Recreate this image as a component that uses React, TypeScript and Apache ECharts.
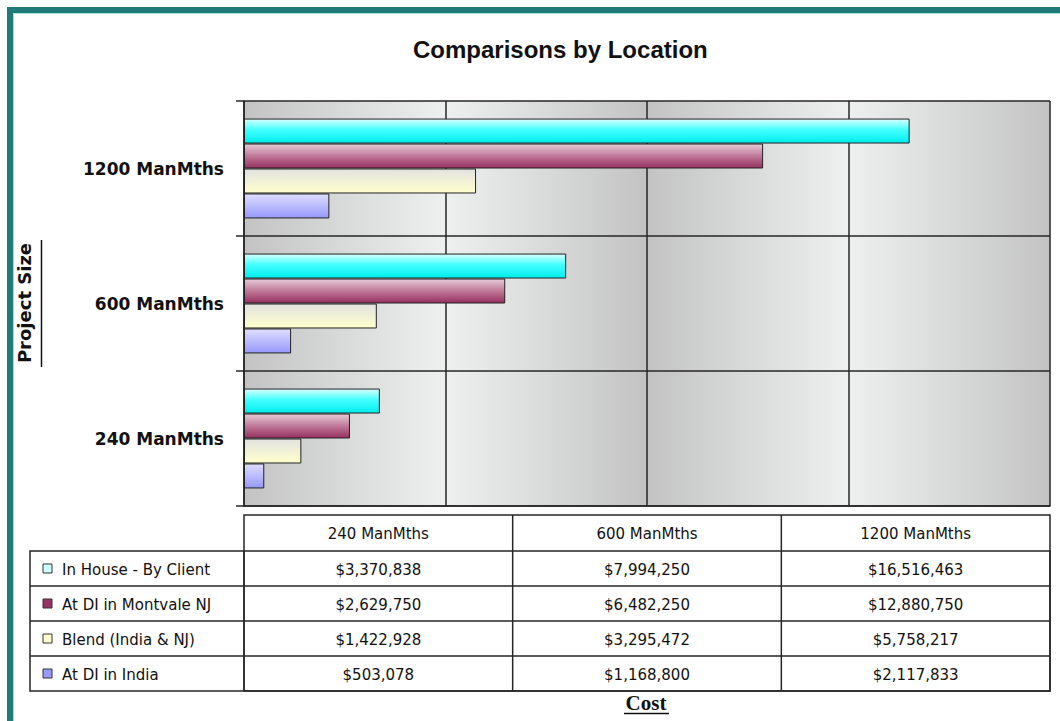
import React, { useEffect, useRef } from 'react';
import * as echarts from 'echarts';

// ---- data ----
const categories = ['240 ManMths', '600 ManMths', '1200 ManMths'];
const seriesNames = ['In House - By Client', 'At DI in Montvale NJ', 'Blend (India & NJ)', 'At DI in India'];
const inHouse = [3370838, 7994250, 16516463];
const montvale = [2629750, 6482250, 12880750];
const blend = [1422928, 3295472, 5758217];
const india = [503078, 1168800, 2117833];
const costTicks = [0, 5000000, 10000000, 15000000, 20000000];

const seriesValues = [inHouse, montvale, blend, india];
const keyColors = ['#ccffff', '#993366', '#ffffcc', '#9999ff'];
const barStops: [number, string][][] = [
  [[0, '#d8ffff'], [0.45, '#44ffff'], [1, '#00ecec']],
  [[0, '#e6ccd9'], [0.5, '#c07898'], [1, '#96305f']],
  [[0, '#e2e2e2'], [1, '#ffffcc']],
  [[0, '#dedeff'], [1, '#9898fc']],
];

const fmt = (v: number) => '$' + v.toLocaleString('en-US');

export default function App() {
  const ref = useRef<HTMLDivElement>(null);
  useEffect(() => {
    const chart = echarts.init(ref.current!, null, { renderer: 'svg' });
    const vgrad = (stops: [number, string][]) =>
      new echarts.graphic.LinearGradient(0, 0, 0, 1, stops.map(([offset, color]) => ({ offset, color })));
    const hgrad = (a: string, b: string) =>
      new echarts.graphic.LinearGradient(0, 0, 1, 0, [{ offset: 0, color: a }, { offset: 1, color: b }]);

    const dark = '#c3c3c3';
    const light = '#eef0f0';
    const bandData = costTicks.slice(0, -1).map((t, i) => [
      { xAxis: t, itemStyle: { color: i % 2 === 0 ? hgrad(dark, light) : hgrad(light, dark) } },
      { xAxis: costTicks[i + 1] },
    ]);

    const lineColor = '#262626';

    // ---- data table (graphic) ----
    const tLeft = 30, pLeft = 244, tRight = 1050;
    const hTop = 515, hBot = 551, rowH = 35;
    const colW = (tRight - pLeft) / categories.length;
    const tBot = hBot + rowH * seriesNames.length;
    const g: any[] = [];
    const ls = { stroke: lineColor, lineWidth: 1.5 };
    g.push({ type: 'rect', shape: { x: 10, y: 10, width: 1200, height: 900 }, style: { fill: 'none', stroke: '#1f7a78', lineWidth: 6 }, silent: true });
    g.push({ type: 'rect', shape: { x: 13.5, y: 13.5, width: 1200, height: 900 }, style: { fill: 'none', stroke: '#a9dcda', lineWidth: 1 }, silent: true });
    g.push({ type: 'rect', shape: { x: pLeft, y: hTop, width: tRight - pLeft, height: tBot - hTop }, style: { fill: '#fff', ...ls } });
    g.push({ type: 'rect', shape: { x: tLeft, y: hBot, width: tRight - tLeft, height: tBot - hBot }, style: { fill: 'none', ...ls } });
    g.push({ type: 'line', shape: { x1: pLeft, y1: hBot, x2: pLeft, y2: tBot }, style: ls });
    for (let c = 1; c < categories.length; c++) {
      g.push({ type: 'line', shape: { x1: pLeft + colW * c, y1: hTop, x2: pLeft + colW * c, y2: tBot }, style: ls });
    }
    for (let r = 0; r < seriesNames.length; r++) {
      if (r > 0) g.push({ type: 'line', shape: { x1: tLeft, y1: hBot + rowH * r, x2: tRight, y2: hBot + rowH * r }, style: ls });
    }
    const tfont = '15px "DejaVu Sans"';
    categories.forEach((cat, c) => {
      g.push({ type: 'text', x: pLeft + colW * (c + 0.5), y: (hTop + hBot) / 2 + 1, style: { text: cat, font: tfont, fill: '#111', align: 'center', verticalAlign: 'middle', textAlign: 'center', textVerticalAlign: 'middle' } });
    });
    seriesNames.forEach((name, r) => {
      const cy = hBot + rowH * (r + 0.5);
      g.push({ type: 'rect', shape: { x: 43, y: cy - 4.5, width: 9, height: 9 }, style: { fill: keyColors[r], stroke: '#333', lineWidth: 1 } });
      g.push({ type: 'text', x: 62, y: cy + 1, style: { text: name, font: tfont, fill: '#111', align: 'left', verticalAlign: 'middle', textAlign: 'left', textVerticalAlign: 'middle' } });
      seriesValues[r].forEach((v, c) => {
        g.push({ type: 'text', x: pLeft + colW * (c + 0.5), y: cy + 1, style: { text: fmt(v), font: tfont, fill: '#111', align: 'center', verticalAlign: 'middle', textAlign: 'center', textVerticalAlign: 'middle' } });
      });
    });
    // axis titles
    g.push({ type: 'text', x: 24, y: 303, rotation: Math.PI / 2, style: { text: 'Project Size', font: 'bold 18px "DejaVu Sans"', fill: '#111', align: 'center', verticalAlign: 'middle', textAlign: 'center', textVerticalAlign: 'middle' } });
    g.push({ type: 'line', shape: { x1: 41.5, y1: 240, x2: 41.5, y2: 367 }, style: { stroke: '#111', lineWidth: 1.5 } });
    g.push({ type: 'text', x: 646, y: 703, style: { text: 'Cost', font: 'bold 21px "Liberation Serif"', fill: '#111', align: 'center', verticalAlign: 'middle', textAlign: 'center', textVerticalAlign: 'middle' } });
    g.push({ type: 'line', shape: { x1: 624, y1: 713.5, x2: 669, y2: 713.5 }, style: { stroke: '#111', lineWidth: 1.5 } });

    const option: any = {
      animation: false,
      backgroundColor: '#ffffff',
      title: {
        text: 'Comparisons by Location',
        left: 408,
        top: 32,
        textStyle: { fontFamily: '"Liberation Sans", Arial', fontWeight: 'bold', fontSize: 24, color: '#111' },
      },
      grid: { left: 244, right: 10, top: 101, bottom: 215, containLabel: false },
      xAxis: {
        type: 'value',
        min: 0,
        max: 20000000,
        interval: 5000000,
        z: 1.5,
        axisLabel: { show: false },
        axisTick: { show: false },
        axisLine: { show: true, lineStyle: { color: lineColor, width: 1.5 } },
        splitLine: { show: true, lineStyle: { color: lineColor, width: 1.5 } },
      },
      yAxis: {
        type: 'category',
        data: categories,
        z: 1.5,
        axisLine: { show: true, lineStyle: { color: lineColor, width: 1.5 } },
        axisTick: { show: true, length: 8, lineStyle: { color: lineColor, width: 1.5 } },
        splitLine: { show: true, lineStyle: { color: lineColor, width: 1.5 } },
        axisLabel: {
          margin: 20,
          fontFamily: '"DejaVu Sans"',
          fontWeight: 'bold',
          fontSize: 17,
          color: '#111',
        },
      },
      series: seriesNames.map((name, i) => ({
        name,
        type: 'bar',
        data: seriesValues[i],
        barGap: '0%',
        barCategoryGap: '26%',
        itemStyle: { color: vgrad(barStops[i]), borderColor: '#222', borderWidth: 1 },
        ...(i === 0
          ? { markArea: { silent: true, label: { show: false }, data: bandData } }
          : {}),
      })),
      graphic: g,
    };
    chart.setOption(option);
    return () => chart.dispose();
  }, []);
  return (
    <div
      ref={ref}
      style={{ position: 'fixed', left: 0, top: 0, width: 1060, height: 721, background: '#fff' }}
    />
  );
}
